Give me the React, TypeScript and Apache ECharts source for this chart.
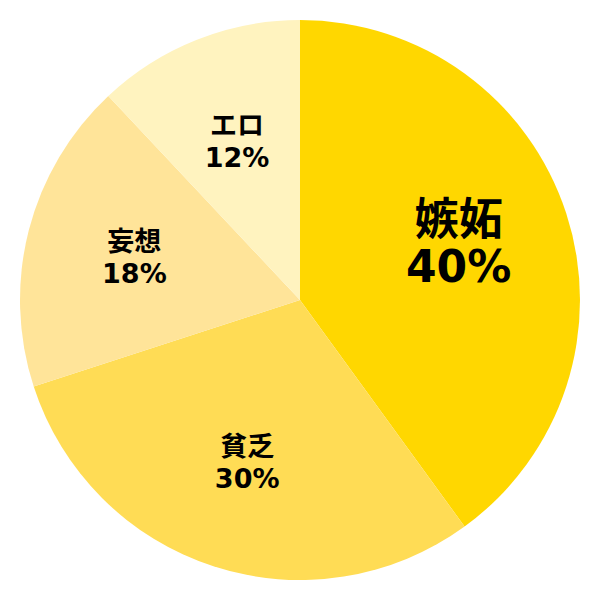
import React, { useEffect, useRef } from "react";
import * as echarts from "echarts";

const categories = ["嫉妬", "貧乏", "妄想", "エロ"];
const values = [40, 30, 18, 12];
const colors = ["#FFD700", "#FFDC55", "#FFE499", "#FFF3BF"];

export default function App() {
  const ref = useRef<HTMLDivElement>(null);
  useEffect(() => {
    if (!ref.current) return;
    const chart = echarts.init(ref.current, null, { renderer: "svg" });
    const data = categories.map((name, i) => ({
      name,
      value: values[i],
      itemStyle: { color: colors[i] },
    }));
    const labelData = categories.map((name, i) => ({
      name,
      value: values[i],
      label:
        i === 0
          ? { fontSize: 44, lineHeight: 47, offset: [-4, -4] }
          : { fontSize: 27, lineHeight: 32 },
    }));
    chart.setOption({
      animation: false,
      series: [
        {
          type: "pie",
          center: [300, 300],
          radius: [0, 280],
          startAngle: 90,
          clockwise: true,
          silent: true,
          label: { show: false },
          labelLine: { show: false },
          itemStyle: { borderWidth: 0 },
          data,
        },
        {
          type: "pie",
          center: [300, 300],
          radius: [56, 280],
          startAngle: 90,
          clockwise: true,
          silent: true,
          itemStyle: { color: "rgba(0,0,0,0)", borderWidth: 0 },
          label: {
            show: true,
            position: "inside",
            formatter: (p: any) => `${p.name}\n${p.value}%`,
            fontFamily: "'DejaVu Sans', 'Noto Sans CJK JP', sans-serif",
            fontWeight: "bold",
            color: "#000",
            align: "center",
          },
          labelLine: { show: false },
          data: labelData,
        },
      ],
    });
    return () => chart.dispose();
  }, []);
  return (
    <div
      ref={ref}
      style={{ position: "fixed", left: 0, top: 0, width: 600, height: 600, background: "#fff" }}
    />
  );
}
